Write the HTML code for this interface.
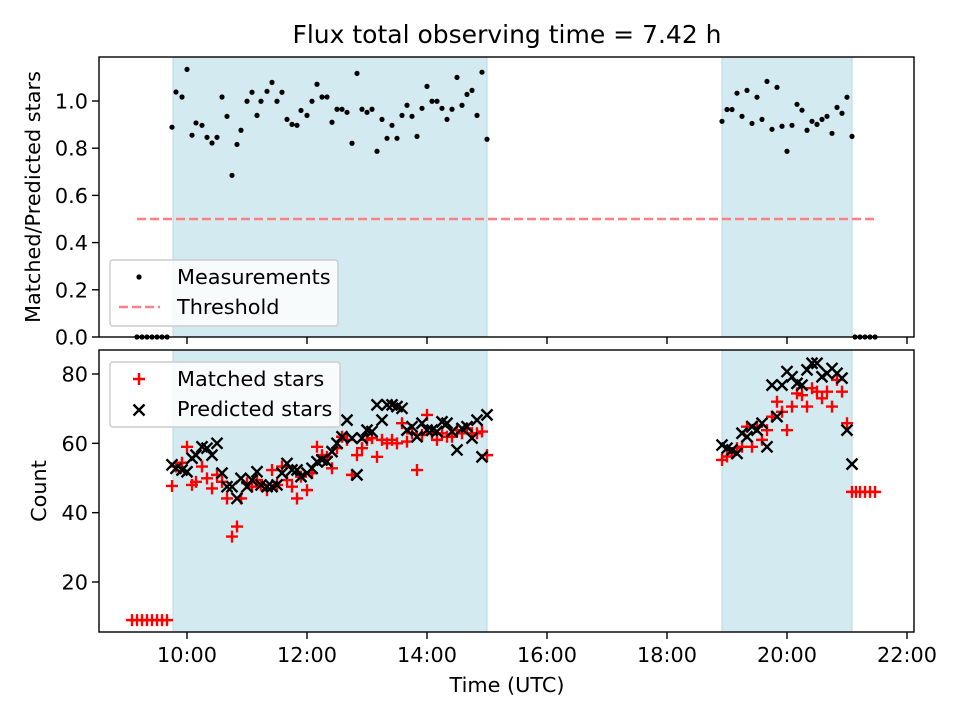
<!DOCTYPE html>
<html><head><meta charset="utf-8"><style>
body{margin:0;background:#fff}
svg{display:block;font-family:"DejaVu Sans","Liberation Sans",sans-serif}
</style></head><body>
<svg id="chart" width="960" height="720" viewBox="0 0 960 720" xmlns="http://www.w3.org/2000/svg"></svg>
<script>
const ratioTimes1=[585,589,595,600,605,609,615,620,625,630,635,640,645,650,654,660,665,670,674,680,685,690,695,700,705,710,714,720,725,730,735,740,745,750,755,760,765,770,775,780,785,790,795,800,805,810,815,820,825,830,835,840,845,850,855,860,865,870,875,880,885,890,895,900];
const ratioVals1=[0.889,1.038,1.017,1.134,0.855,0.907,0.897,0.846,0.822,0.846,1.017,0.935,0.685,0.816,0.876,0.999,1.037,0.939,0.999,1.041,1.079,0.999,1.037,0.922,0.901,0.897,0.960,0.939,0.999,1.071,1.017,1.017,0.910,0.965,0.965,0.952,0.821,1.117,0.965,0.952,0.965,0.787,0.922,0.842,0.897,0.842,0.939,0.982,0.935,0.850,0.969,1.062,0.999,0.999,0.969,0.922,0.965,1.100,0.982,1.028,1.045,0.939,1.122,0.838];
const ratioTimes2=[1135,1140,1145,1150,1155,1160,1165,1170,1175,1180,1185,1190,1195,1200,1205,1210,1215,1220,1225,1230,1235,1240,1245,1250,1255,1260,1265];
const ratioVals2=[0.914,0.964,0.964,1.033,0.935,1.045,0.905,1.016,0.922,1.083,0.880,1.058,0.893,0.787,0.897,0.986,0.961,0.876,0.914,0.901,0.922,0.935,0.863,0.973,0.948,1.016,0.850];
const zeroTimes=[550,555,560,565,570,575,580,1268,1273,1278,1283,1288];
const threshold=0.5, thrStart=550, thrEnd=1290;
const predicted1=[53.8,52.8,52.3,51.8,55.7,56.6,59,58.6,56.6,60,51.4,47.5,47.5,44.1,49.9,47.5,49.4,51.8,48,47.5,47.5,48,51.4,54.2,52.3,52.3,50.4,51.4,52.8,54.7,55.2,54.7,57.6,60,61.9,66.7,61.5,50.9,61.5,63.8,63.4,71.1,66.7,71.1,71.1,70.6,70.1,63.8,64.8,61.9,65.8,63.8,63.8,63.4,66.2,65.8,63.4,58.1,64.3,64.8,61.5,66.7,56.1,68.2];
const matched1=[47.7,53.3,54.4,59,48,48.9,53.3,49.9,47,50.9,48.9,44.1,33.1,36,44.1,48.5,47.5,49.4,48,46.5,52.3,48,53.3,49.4,47.5,44.1,50.4,46.5,51.4,59,56.6,56.1,52.8,58.6,61.9,61,50.9,56.6,58.6,61,61.5,56.1,61,60,61,60,65.8,60.5,62.9,52.3,62.4,68.2,62.9,61,62.9,61.9,61.9,63.8,62.9,64.3,62.9,62.9,63.4,56.6];
const predicted2=[59.5,58.6,58.1,57.1,62.9,61.9,64.8,63.8,65.8,59,76.8,67.7,76.8,80.7,79.2,77.3,76.8,81.2,83.1,83.1,79.2,80.2,81.6,80.2,78.8,63.8,54];
const matched2=[55.2,56.2,57.1,58.6,59,64.8,59,64.8,61,63.8,67.7,72,69.1,63.8,70.6,74.4,73.9,70.6,75.9,74.9,73,74.9,70.6,78.3,74.9,65.8,46];
const matchedLateTimes=[1269,1273,1278,1283,1288];
const matchedLate=[46,46,46,46,46];
const earlyTimes=[545,550,555,560,565,570,575,580];
const earlyMatched=[9,9,9,9,9,9,9,9];
const xTicks=[600,720,840,960,1080,1200,1320];
const xTickLabels=["10:00","12:00","14:00","16:00","18:00","20:00","22:00"];
const topTicks=[0,0.2,0.4,0.6,0.8,1.0];
const botTicks=[20,40,60,80];
const shade=[[586,900],[1135,1265]];

const NS="http://www.w3.org/2000/svg";
const svg=document.getElementById('chart');
const L=99,R=914,T1=57,B1=337,T2=350,B2=632;
const FS=20.8;
const X=t=>187+(t-600);
const Y1=v=>337-v*236;
const Y2=c=>374+(80-c)*208/60;
function mk(tag,attrs,parent){const e=document.createElementNS(NS,tag);for(const k in attrs)e.setAttribute(k,attrs[k]);(parent||svg).appendChild(e);return e;}
function txt(s,x,y,size,anchor,parent){const e=mk('text',{x:x,y:y,'font-size':size,'text-anchor':anchor||'middle',fill:'#000'},parent);e.textContent=s;return e;}

let t=txt('Flux total observing time = 7.42 h',507,43,25);



shade.forEach(s=>{
  [[T1,B1],[T2,B2]].forEach(p=>{
    const r=mk('rect',{x:X(s[0]),y:p[0],width:X(s[1])-X(s[0]),height:p[1]-p[0],fill:'#d4eaf1',stroke:'#b4d9e6','stroke-width':1});
    
    
  });
});

const th=mk('line',{x1:X(thrStart),x2:X(thrEnd),y1:Y1(threshold),y2:Y1(threshold),stroke:'#ff8080','stroke-width':2.5,'stroke-dasharray':'9,4'});



const gm=mk('g',{});


function dot(tm,v){const c=mk('circle',{cx:X(tm),cy:Y1(v),r:2.6,fill:'#000'},gm);}
ratioTimes1.forEach((tm,i)=>dot(tm,ratioVals1[i]));
ratioTimes2.forEach((tm,i)=>dot(tm,ratioVals2[i]));
zeroTimes.forEach(tm=>dot(tm,0));

const gp=mk('g',{});


const gx=mk('g',{});


function plus(tm,c){const x=X(tm),y=Y2(c),s=6;const p=mk('path',{d:`M${x-s},${y}H${x+s}M${x},${y-s}V${y+s}`,stroke:'#ff0000','stroke-width':2.4,fill:'none'},gp);}
function cross(tm,c){const x=X(tm),y=Y2(c),s=5.5;const p=mk('path',{d:`M${x-s},${y-s}L${x+s},${y+s}M${x-s},${y+s}L${x+s},${y-s}`,stroke:'#000','stroke-width':2.4,fill:'none'},gx);}
earlyTimes.forEach((tm,i)=>plus(tm,earlyMatched[i]));
ratioTimes1.forEach((tm,i)=>plus(tm,matched1[i]));
ratioTimes2.forEach((tm,i)=>plus(tm,matched2[i]));
matchedLateTimes.forEach((tm,i)=>plus(tm,matchedLate[i]));
svg.appendChild(gx);
ratioTimes1.forEach((tm,i)=>cross(tm,predicted1[i]));
ratioTimes2.forEach((tm,i)=>cross(tm,predicted2[i]));

[[T1,B1,'top-axes'],[T2,B2,'bottom-axes']].forEach(p=>{
  const r=mk('rect',{x:L,y:p[0],width:R-L,height:p[1]-p[0],fill:'none',stroke:'#000','stroke-width':1.4});
  
  
});
xTicks.forEach((tm,i)=>{
  mk('line',{x1:X(tm),x2:X(tm),y1:B1,y2:B1+7,stroke:'#000','stroke-width':1.4});
  mk('line',{x1:X(tm),x2:X(tm),y1:B2,y2:B2+7,stroke:'#000','stroke-width':1.4});
  const l=txt(xTickLabels[i],X(tm),B2+30,FS);
  
  
});
topTicks.forEach(v=>{
  mk('line',{x1:L-7,x2:L,y1:Y1(v),y2:Y1(v),stroke:'#000','stroke-width':1.4});
  const l=txt(v.toFixed(1),L-11,Y1(v)+7.5,FS,'end');
  
  
});
botTicks.forEach(v=>{
  mk('line',{x1:L-7,x2:L,y1:Y2(v),y2:Y2(v),stroke:'#000','stroke-width':1.4});
  const l=txt(String(v),L-11,Y2(v)+7.5,FS,'end');
  
  
});
let a=txt('Time (UTC)',507,692,FS);


a=txt('Matched/Predicted stars',0,0,FS);a.setAttribute('transform','translate(40,197) rotate(-90)');


a=txt('Count',0,0,FS);a.setAttribute('transform','translate(46,491) rotate(-90)');



const lg1=mk('g',{});


mk('rect',{x:110,y:260,width:228,height:66,rx:3,fill:'#fff','fill-opacity':0.8,stroke:'#ccc','stroke-width':1.4},lg1);
mk('circle',{cx:139,cy:277,r:2.6,fill:'#000'},lg1);
txt('Measurements',177,284,FS,'start',lg1);
mk('line',{x1:119,x2:160,y1:307,y2:307,stroke:'#ff8080','stroke-width':2.5,'stroke-dasharray':'9,4'},lg1);
txt('Threshold',177,314,FS,'start',lg1);

const lg2=mk('g',{});


mk('rect',{x:110,y:362,width:230,height:65,rx:3,fill:'#fff','fill-opacity':0.8,stroke:'#ccc','stroke-width':1.4},lg2);
mk('path',{d:'M133,379H145M139,373V385',stroke:'#ff0000','stroke-width':2.4},lg2);
txt('Matched stars',177,386,FS,'start',lg2);
mk('path',{d:'M133.5,404.5L144.5,415.5M133.5,415.5L144.5,404.5',stroke:'#000','stroke-width':2.4},lg2);
txt('Predicted stars',177,416,FS,'start',lg2);
</script>
</body></html>
